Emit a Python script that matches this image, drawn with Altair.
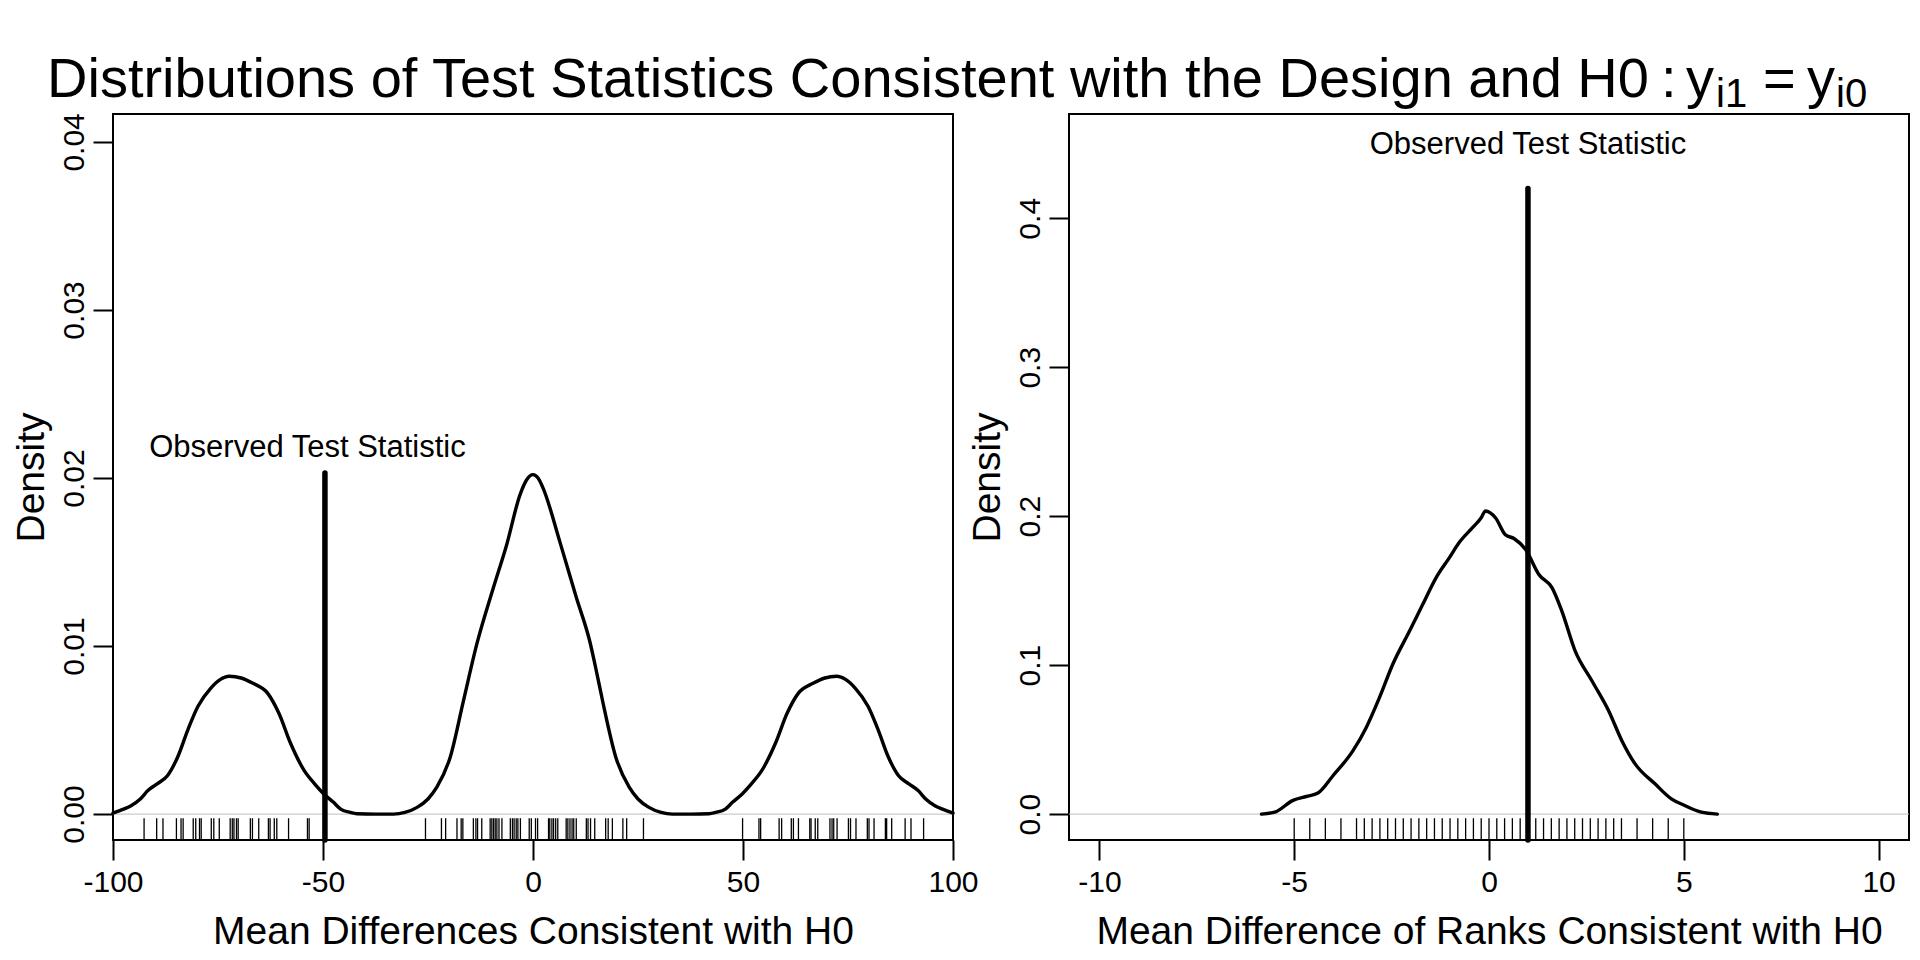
import altair as alt
import pandas as pd

FONT = "Liberation Sans"

# ---------------- data: left panel (mean differences) ----------------
left_x = [-100, -97.5, -95.7, -93.5, -91.7, -89.5, -87.0, -84.6, -82.2, -79.8, -76.7, -74.5,
          -72.3, -69.5, -66.8, -63.2, -60.5, -57.7, -54.5, -52.0, -49.8, -47.5, -45.8, -43.5,
          -41.9, -37.5, -33.2, -30.5, -27.6, -25.0, -22.9, -19.7, -16.6, -13.4, -9.4, -6.3,
          -3.1, -1.5, 0.0, 1.2, 2.4, 6.4, 10.3, 13.5, 15.1, 16.6, 19.7, 22.9, 25.0, 27.6,
          30.5, 33.2, 37.5, 41.9, 43.5, 45.8, 47.5, 49.8, 52.0, 54.5, 57.7, 60.5, 63.2, 66.8,
          69.5, 72.3, 74.5, 76.7, 79.8, 82.2, 84.6, 87.0, 89.5, 91.7, 93.5, 95.7, 97.5, 100]
left_y = [0.00006, 0.0003, 0.0005, 0.0009, 0.0014, 0.0018, 0.0023, 0.0034, 0.0050, 0.0064, 0.0075, 0.0080,
          0.0082, 0.0081, 0.0078, 0.0072, 0.0060, 0.0042, 0.0026, 0.0018, 0.0012, 0.0007, 0.0003, 0.0001,
          0.00002, 0.0, 0.0, 0.0001, 0.0004, 0.0009, 0.0016, 0.0034, 0.0067, 0.0101, 0.0135, 0.0160,
          0.0190, 0.0199, 0.0202, 0.0200, 0.0194, 0.0162, 0.0129, 0.0103, 0.0085, 0.0067, 0.0034, 0.0016, 0.0009, 0.0004,
          0.0001, 0.0, 0.0, 0.00002, 0.0001, 0.0003, 0.0007, 0.0012, 0.0018, 0.0026, 0.0042, 0.0060, 0.0072, 0.0078,
          0.0081, 0.0082, 0.0080, 0.0075, 0.0064, 0.0050, 0.0034, 0.0023, 0.0018, 0.0014, 0.0009, 0.0005, 0.0003, 0.00006]
left_rug = [-92.6, -89.6, -88.1, -84.9, -83.8, -83.3, -80.9, -80.3, -79.4, -79.0, -76.6, -76.0,
            -74.7, -72.1, -71.6, -71.2, -70.6, -70.2, -67.3, -66.8, -65.3, -63.0, -62.6, -61.6,
            -61.0, -58.2, -53.7, -53.3, -49.5,
            -25.6, -21.8, -20.8, -18.1, -17.1, -16.7, -14.2, -13.6, -13.2, -12.2, -10.2, -9.8,
            -9.4, -9.0, -8.6, -8.1, -7.4, -5.4, -4.9, -4.5, -4.0, -3.6, -3.0, -0.9, -0.4, 0.6,
            1.1, 3.7, 4.0, 4.5, 4.9, 5.4, 5.9, 7.9, 8.3, 8.8, 9.3, 9.7, 10.3, 12.7, 13.1, 13.7,
            14.7, 17.3, 17.9, 18.9, 21.4, 22.3, 26.3,
            49.9, 53.8, 54.2, 58.6, 59.2, 61.5, 62.0, 63.2, 65.9, 66.2, 67.2, 67.8, 70.7, 71.2,
            71.6, 72.4, 75.1, 75.6, 76.9, 79.6, 80.0, 81.2, 83.9, 84.2, 85.4, 88.6, 90.0, 93.0]
left_obs = -49.54
left_obs_top = 0.0203
left_label = ["Observed Test Statistic"]
left_label_x = [-53.7]
left_label_y = [0.02123]

left_xlim = [-100, 100]
left_ylim = [-0.00154, 0.04166]
left_xticks = [-100, -50, 0, 50, 100]
left_yticks = [0.0, 0.01, 0.02, 0.03, 0.04]

# ---------------- data: right panel (mean difference of ranks) ----------------
right_x = [-5.84, -5.5, -5.03, -4.69, -4.39, -4.0, -3.49, -3.15, -2.81, -2.47, -2.04, -1.70,
           -1.36, -1.02, -0.77, -0.43, -0.20, -0.09, 0.17, 0.42, 0.64, 0.94, 1.28, 1.62,
           1.87, 2.21, 2.64, 3.07, 3.41, 3.75, 4.26, 4.68, 5.02, 5.45, 5.86]
right_y = [0.0, 0.0013, 0.0092, 0.0118, 0.0141, 0.0259, 0.0426, 0.0582, 0.0783, 0.1006, 0.1229, 0.1408,
           0.1586, 0.1720, 0.1821, 0.1921, 0.1990, 0.2035, 0.1988, 0.1876, 0.1850, 0.1776, 0.1609, 0.1519,
           0.1363, 0.1096, 0.0895, 0.0694, 0.0493, 0.0337, 0.0203, 0.0102, 0.0058, 0.0013, 0.0]
right_rug = [-5.0, -4.6, -4.2, -3.8, -3.4, -3.2, -3.0, -2.8, -2.6, -2.4, -2.2, -2.0, -1.8, -1.6,
             -1.4, -1.2, -1.0, -0.8, -0.6, -0.4, -0.2, 0.0, 0.2, 0.4, 0.6, 0.8, 1.0, 1.2, 1.4,
             1.6, 1.8, 2.0, 2.2, 2.4, 2.6, 2.8, 3.0, 3.2, 3.4, 3.8, 4.2, 4.6, 5.0]
right_obs = 1.0
right_obs_top = 0.42
right_label = ["Observed Test Statistic"]
right_label_x = [1.0]
right_label_y = [0.4431]

right_xlim = [-10.78, 10.78]
right_ylim = [-0.0174, 0.47]
right_xticks = [-10, -5, 0, 5, 10]
right_yticks = [0.0, 0.1, 0.2, 0.3, 0.4]

# ---------------- text ----------------
title_main = "Distributions of Test Statistics Consistent with the Design and H0"
title_colon = ":"
title_y = "y"
title_sub1 = "i1"
title_eq = "="
title_sub0 = "i0"
left_xtitle = "Mean Differences Consistent with H0"
right_xtitle = "Mean Difference of Ranks Consistent with H0"
ytitle = "Density"

W, H = 840, 726


def panel(dx, dy, rug, obs, obs_top, lab, lab_x, lab_y, xlim, ylim, xticks, yticks, yfmt, xtitle):
    xs = alt.Scale(domain=xlim, nice=False, zero=False)
    ys = alt.Scale(domain=ylim, nice=False, zero=False)
    xaxis = alt.Axis(values=xticks, labelExpr="'' + datum.value", title=xtitle)
    yaxis = alt.Axis(values=yticks, format=yfmt, title=ytitle)

    dens = pd.DataFrame({"x": dx, "y": dy})
    zero = alt.Chart(pd.DataFrame({"y": [0.0]})).mark_rule(
        color="#BEBEBE", strokeWidth=1
    ).encode(y=alt.Y("y:Q", scale=ys, axis=yaxis))
    line = alt.Chart(dens).mark_line(
        color="black", strokeWidth=3.4, interpolate="monotone", strokeJoin="round", strokeCap="round"
    ).encode(x=alt.X("x:Q", scale=xs, axis=xaxis), y=alt.Y("y:Q", scale=ys, axis=yaxis))
    tick_top = ylim[0] + 0.03 * (ylim[1] - ylim[0])
    rugc = alt.Chart(pd.DataFrame({"x": rug})).mark_rule(color="black", strokeWidth=1.3).encode(
        x=alt.X("x:Q", scale=xs, axis=xaxis),
        y=alt.datum(ylim[0]),
        y2=alt.datum(tick_top),
    )
    obsc = alt.Chart(pd.DataFrame({"x": [obs], "y": [ylim[0]], "y2": [obs_top]})).mark_rule(
        color="black", strokeWidth=5.5, strokeCap="round"
    ).encode(x=alt.X("x:Q", scale=xs, axis=xaxis), y=alt.Y("y:Q", scale=ys, axis=yaxis), y2="y2:Q")
    labc = alt.Chart(pd.DataFrame({"x": lab_x, "y": lab_y, "t": lab})).mark_text(
        font=FONT, fontSize=31, align="center", baseline="alphabetic", color="black"
    ).encode(x=alt.X("x:Q", scale=xs, axis=xaxis), y=alt.Y("y:Q", scale=ys, axis=yaxis), text="t:N")
    return [zero, line, rugc, obsc, labc]


def tpiece(text, size, px, py):
    return alt.Chart(pd.DataFrame({"t": [text]})).mark_text(
        font=FONT, fontSize=size, align="left", baseline="alphabetic", color="black"
    ).encode(x=alt.value(px), y=alt.value(py), text="t:N")


left_layers = panel(left_x, left_y, left_rug, left_obs, left_obs_top, left_label, left_label_x,
                    left_label_y, left_xlim, left_ylim, left_xticks, left_yticks, ".2f", left_xtitle)
title_layers = [
    tpiece(title_main, 56, -66, -17),
    tpiece(title_colon, 56, 1548, -17),
    tpiece(title_y, 56, 1573, -17),
    tpiece(title_sub1, 40, 1603, -7),
    tpiece(title_eq, 56, 1650, -17),
    tpiece(title_y, 56, 1694, -17),
    tpiece(title_sub0, 40, 1723, -7),
]
left = alt.layer(*left_layers, *title_layers).properties(width=W, height=H)

right_layers = panel(right_x, right_y, right_rug, right_obs, right_obs_top, right_label, right_label_x,
                     right_label_y, right_xlim, right_ylim, right_xticks, right_yticks, ".1f", right_xtitle)
right = alt.layer(*right_layers).properties(width=W, height=H)

chart = alt.hconcat(left, right, spacing=116, bounds="flush").properties(
    autosize=alt.AutoSizeParams(type="none"),
    padding={"left": 105, "top": 106, "right": 1797, "bottom": 830},
    background="white",
).configure_view(
    stroke="black", strokeWidth=2
).configure_axis(
    labelFont=FONT, titleFont=FONT, labelFontSize=30, titleFontSize=39, titleFontWeight="normal",
    labelColor="black", titleColor="black", tickColor="black", tickWidth=2, tickSize=20,
    domain=False, grid=False, labelFlush=False, labelOverlap=False
).configure_axisX(
    labelPadding=31, labelBaseline="alphabetic", titleY=103, titleBaseline="alphabetic"
).configure_axisY(
    labelAngle=270, labelAlign="center", labelBaseline="alphabetic", labelPadding=10,
    titleAngle=270, titleX=-70, titleY=363, titleBaseline="alphabetic", titleAlign="center"
)

chart.save("out.html", embed_options={"renderer": "svg", "actions": False})
